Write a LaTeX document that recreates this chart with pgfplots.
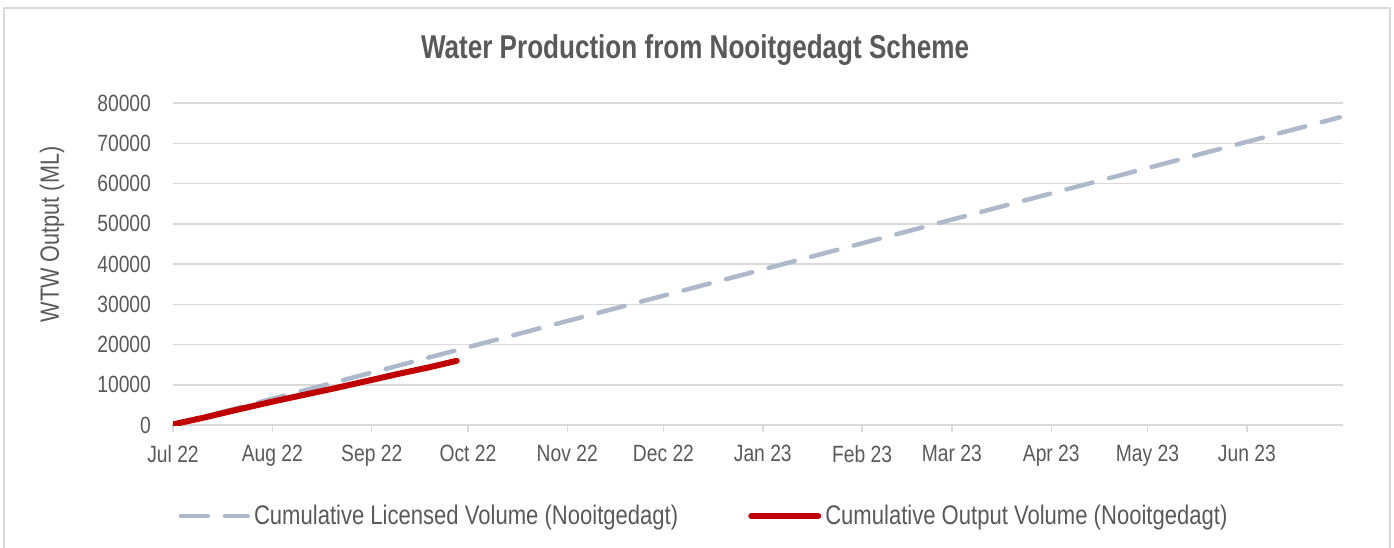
\documentclass[border=0pt]{standalone}
\usepackage{fontspec}
\setmainfont{Liberation Sans}[FakeStretch=0.82]
\newfontfamily\titlefont{Liberation Sans}[FakeStretch=0.79]
\usepackage{pgfplots}
\pgfplotsset{compat=1.18}
\definecolor{txt}{HTML}{595959}
\definecolor{grd}{HTML}{D9D9D9}
\definecolor{lic}{HTML}{ADB9CA}
\definecolor{outc}{HTML}{C00000}
\begin{document}
\begin{tikzpicture}
\useasboundingbox (-86.5pt,-61pt) rectangle (610.5pt,212.5pt);
\draw[grd, line width=1pt] (-84.5pt,-70pt) -- (-84.5pt,208.5pt) -- (608.5pt,208.5pt) -- (608.5pt,-70pt);
\begin{axis}[
  at={(0pt,0pt)}, anchor=south west,
  width=585pt, height=161pt, scale only axis,
  xmin=0, xmax=365, ymin=0, ymax=80000,
  ytick={0,10000,...,80000},
  xtick={0,31,62,92,123,153,184,215,243,274,304,335},
  xticklabels={Jul 22,Aug 22,Sep 22,Oct 22,Nov 22,Dec 22,Jan 23,Feb 23,Mar 23,Apr 23,May 23,Jun 23},
  axis x line*=bottom, axis y line*=left,
  x axis line style={grd, line width=0.75pt, -},
  y axis line style={draw=none},
  ytick style={draw=none},
  xtick style={grd, line width=0.75pt},
  tick align=outside, major tick length=3.5pt,
  ymajorgrids, major grid style={grd, line width=0.75pt},
  scaled y ticks=false,
  /pgf/number format/assume math mode=true,
  /pgf/number format/set thousands separator={},
  tick label style={font=\fontsize{11.75}{13}\selectfont, text=txt},
  yticklabel style={xshift=-4pt},
  xticklabel style={yshift=-3pt},
  ylabel={WTW Output (ML)},
  ylabel style={at={(axis description cs:-0.1034,0.5916)}, anchor=center, font=\fontsize{13.2}{15}\selectfont, text=txt},
  title={Water Production from Nooitgedagt Scheme},
  title style={at={(axis description cs:0.4462,1.1273)}, anchor=center, font=\titlefont\bfseries\fontsize{16.5}{18}\selectfont, text=txt},
  legend style={at={(axis description cs:0.4547,-0.2826)}, anchor=center, draw=none, fill=none,
    legend columns=2, font=\fontsize{13.45}{15}\selectfont, text=txt,
    /tikz/every even column/.append style={column sep=33pt}},
  legend image code/.code={\draw[#1] (0pt,0pt) -- (33.5pt,0pt);},
]
\addplot[lic, line width=2.25pt, line cap=round, dash pattern=on 13.5pt off 8.5pt] coordinates {(0,0) (364,76440)};
\addlegendentry{Cumulative Licensed Volume (Nooitgedagt)}
\addplot[outc, line width=3pt, line cap=round] coordinates {
(0,150) (10,1900) (20,3800) (31,5800) (40,7350) (50,9050) (62,11200) (70,12650) (80,14350) (88.5,15950)};
\addlegendentry{Cumulative Output Volume (Nooitgedagt)}
\end{axis}
\end{tikzpicture}
\end{document}
